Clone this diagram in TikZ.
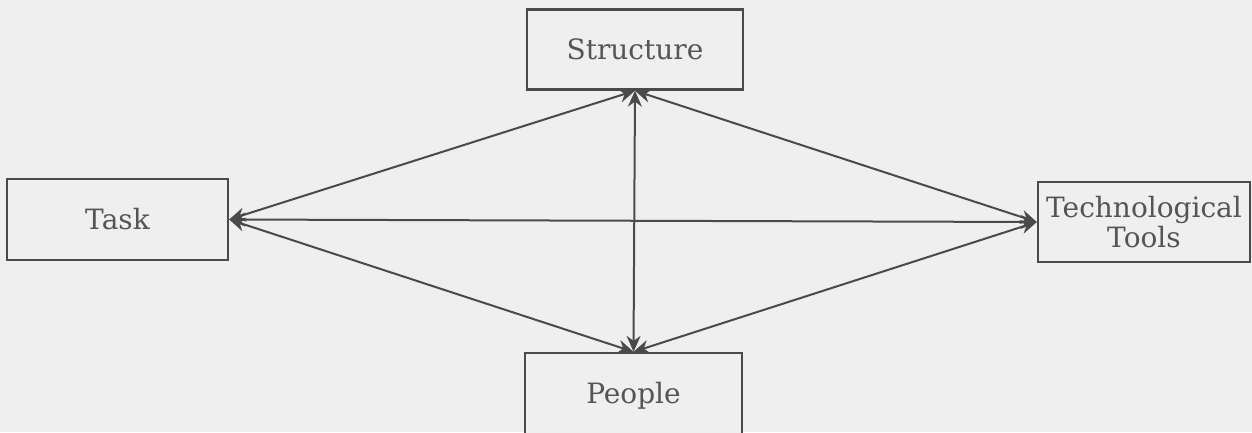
\documentclass[tikz,border=0pt]{standalone}
\usepackage{fontspec}
\setmainfont{DejaVu Serif}
\usetikzlibrary{arrows.meta}
\definecolor{paper}{HTML}{EFEFEF}
\definecolor{ink}{HTML}{4A4A4A}
\definecolor{letter}{HTML}{555555}
\begin{document}
\begin{tikzpicture}[x=1pt,y=-1pt,
  box/.style={draw=ink, line width=2.4pt, fill=paper, text=letter, inner sep=0pt,
    font=\fontsize{28}{30}\selectfont, align=center},
  link/.style={draw=ink, line width=2pt,
    {Stealth[length=16pt,width=14pt]}-{Stealth[length=16pt,width=14pt]}}]
  % page and background
  \fill[paper] (0,0) rectangle (1252,432);
  \useasboundingbox (0,0) rectangle (1252,432);
  % the four boxes
  \node[box, minimum width=216pt, minimum height=80pt] (structure) at (635,49.5) {Structure};
  \node[box, minimum width=221pt, minimum height=81pt] (task) at (117.5,219.5) {Task};
  \node[box, minimum width=212pt, minimum height=80pt] (tools) at (1144,222) {Technological\\Tools};
  \node[box, minimum width=217pt, minimum height=86pt] (people) at (633.5,396) {People};
  % double-headed links between every pair
  \draw[link] (task.east) -- (structure.south);
  \draw[link] (task.east) -- (tools.west);
  \draw[link] (task.east) -- (people.north);
  \draw[link] (structure.south) -- (people.north);
  \draw[link] (structure.south) -- (tools.west);
  \draw[link] (people.north) -- (tools.west);
\end{tikzpicture}
\end{document}
